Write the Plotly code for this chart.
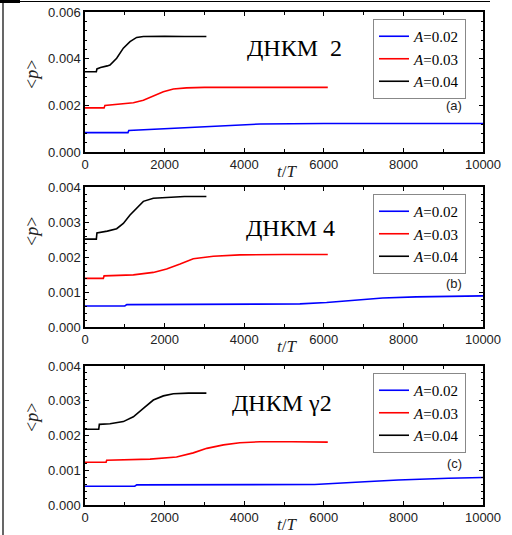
import plotly.graph_objects as go

W, H = 512, 535

labels = ["<i>A</i>=0.02", "<i>A</i>=0.03", "<i>A</i>=0.04"]
colors = ["#0000ff", "#ff0000", "#000000"]

# Panel (a) ДНКМ 2
a_t_02 = [0, 1080, 1100, 2000, 3000, 4400, 6000, 8000, 10000]
a_p_02 = [0.00083, 0.00083, 0.00092, 0.00099, 0.00108, 0.00120, 0.00122, 0.00122, 0.00122]
a_t_03 = [0, 480, 500, 800, 1215, 1466, 1717, 1968, 2220, 2550, 3000, 4000, 5000, 6100]
a_p_03 = [0.00189, 0.00189, 0.00199, 0.00204, 0.00211, 0.00222, 0.00241, 0.00258, 0.00270, 0.00275, 0.00277, 0.00277, 0.00277, 0.00277]
a_t_04 = [0, 285, 300, 390, 560, 628, 796, 963, 1131, 1298, 1466, 1700, 2000, 2500, 3050]
a_p_04 = [0.00344, 0.00344, 0.00356, 0.00362, 0.00369, 0.00373, 0.00402, 0.00445, 0.00473, 0.00491, 0.00495, 0.00496, 0.00496, 0.00495, 0.00495]

# Panel (b) ДНКМ 4
b_t_02 = [0, 1000, 1050, 2000, 3000, 4140, 5400, 6070, 6650, 7480, 8320, 9200, 10000]
b_p_02 = [0.00060, 0.00060, 0.00064, 0.00064, 0.00065, 0.00065, 0.00066, 0.00070, 0.00075, 0.00083, 0.00086, 0.00088, 0.00089]
b_t_03 = [0, 460, 480, 1215, 1717, 2050, 2390, 2720, 3225, 3890, 5000, 6100]
b_p_03 = [0.00139, 0.00139, 0.00146, 0.00149, 0.00156, 0.00166, 0.00180, 0.00195, 0.00202, 0.00206, 0.00207, 0.00207]
b_t_04 = [0, 285, 300, 560, 796, 963, 1131, 1298, 1466, 1717, 2050, 2500, 3050]
b_p_04 = [0.00251, 0.00251, 0.00269, 0.00274, 0.00281, 0.00296, 0.00320, 0.00341, 0.00359, 0.00368, 0.00371, 0.00373, 0.00373]

# Panel (c) ДНКМ γ2
c_t_02 = [0, 1250, 1300, 3000, 5770, 7030, 7870, 9130, 10000]
c_p_02 = [0.00054, 0.00054, 0.00058, 0.00058, 0.00059, 0.00067, 0.00072, 0.00077, 0.00079]
c_t_03 = [0, 530, 545, 1635, 2300, 2720, 3060, 3480, 3890, 4400, 5200, 6100]
c_p_03 = [0.00123, 0.00123, 0.00129, 0.00132, 0.00138, 0.00150, 0.00163, 0.00173, 0.00179, 0.00182, 0.00182, 0.00181]
c_t_04 = [0, 345, 360, 628, 963, 1215, 1466, 1717, 1968, 2220, 2600, 3050]
c_p_04 = [0.00218, 0.00218, 0.00232, 0.00234, 0.00240, 0.00254, 0.00278, 0.00302, 0.00314, 0.00320, 0.00322, 0.00322]

panel_titles = ["ДНКМ  2", "ДНКМ 4", "ДНКМ γ2"]
panel_tags = ["(a)", "(b)", "(c)"]
y_ranges = [[0, 0.006], [0, 0.004], [0, 0.004]]
y_dticks = [0.002, 0.001, 0.001]
y_minor = [0.0004, 0.0002, 0.0002]

panels = [
    [(a_t_02, a_p_02), (a_t_03, a_p_03), (a_t_04, a_p_04)],
    [(b_t_02, b_p_02), (b_t_03, b_p_03), (b_t_04, b_p_04)],
    [(c_t_02, c_p_02), (c_t_03, c_p_03), (c_t_04, c_p_04)],
]

# layout in pixels
px_left, px_right = 85, 483
px_rows = [(12, 152), (187, 327), (366, 505)]

def fx(p):
    return p / W

def fy(p):
    return 1 - p / H

fig = go.Figure()
legend_names = ["legend", "legend2", "legend3"]
for i, series in enumerate(panels):
    xa = "x" if i == 0 else f"x{i+1}"
    ya = "y" if i == 0 else f"y{i+1}"
    for j, (t, p) in enumerate(series):
        fig.add_trace(go.Scatter(
            x=t, y=p, mode="lines", name=labels[j],
            line=dict(color=colors[j], width=1.6),
            xaxis=xa, yaxis=ya, legend=legend_names[i],
        ))

layout = dict(
    width=W, height=H,
    margin=dict(l=0, r=0, t=0, b=0, autoexpand=False),
    paper_bgcolor="white", plot_bgcolor="white",
    showlegend=True,
)

tickfont = dict(family="Liberation Sans, Arial", size=13, color="#222")
for i in range(3):
    top, bot = px_rows[i]
    sx = "" if i == 0 else str(i + 1)
    layout[f"xaxis{sx}"] = dict(
        domain=[fx(px_left), fx(px_right)], range=[0, 10000],
        anchor=f"y{sx}", dtick=2000, tick0=0, tickformat="d", automargin=False,
        ticks="inside", ticklen=4, tickwidth=1, tickcolor="black",
        minor=dict(dtick=1000, ticks="inside", ticklen=3, tickcolor="black"),
        showline=True, linecolor="black", linewidth=1.5, mirror="allticks",
        showgrid=False, zeroline=False, tickfont=tickfont,
    )
    layout[f"yaxis{sx}"] = dict(
        domain=[fy(bot), fy(top)], range=y_ranges[i],
        anchor=f"x{sx}", dtick=y_dticks[i], tick0=0, tickformat=".3f", automargin=False,
        ticks="inside", ticklen=4, tickwidth=1, tickcolor="black",
        minor=dict(dtick=y_minor[i], ticks="inside", ticklen=2, tickcolor="black"),
        showline=True, linecolor="black", linewidth=1.5, mirror="allticks",
        showgrid=False, zeroline=False, tickfont=tickfont,
    )
    layout[legend_names[i]] = dict(
        x=fx(466), xanchor="right", y=fy(top + 7), yanchor="top",
        bgcolor="white", bordercolor="#888", borderwidth=1,
        font=dict(family="Liberation Serif, Times New Roman", size=15, color="black"),
        itemwidth=30, tracegroupgap=0,
    )

fig.update_layout(**layout)

annotations = []
title_pos = [(294, 48), (290, 228), (282, 403)]
tag_y = [105, 283, 463]
ylab_pos = [75, 232, 418]
xlab_pos = [171, 346, 524]
serif = "Liberation Serif, Times New Roman"
for i in range(3):
    tx, ty = title_pos[i]
    common = dict(xref="paper", yref="paper", showarrow=False, xanchor="center", yanchor="middle")
    annotations.append(dict(x=fx(tx), y=fy(ty), text=panel_titles[i],
                            font=dict(family=serif, size=24, color="black"), **common))
    annotations.append(dict(x=fx(454), y=fy(tag_y[i]), text=panel_tags[i],
                            font=dict(family="Liberation Sans, Arial", size=13, color="#222"), **common))
    annotations.append(dict(x=fx(32), y=fy(ylab_pos[i]), text="&lt;<i>p</i>&gt;", textangle=-90,
                            font=dict(family=serif, size=18, color="#222"), **common))
    annotations.append(dict(x=fx(287), y=fy(xlab_pos[i]), text="<i>t</i>/<i>T</i>",
                            font=dict(family=serif, size=17, color="#222"), **common))

shapes = [
    dict(type="line", xref="paper", yref="paper", x0=0, x1=fx(490), y0=fy(1.5), y1=fy(1.5),
         line=dict(color="black", width=1)),
    dict(type="line", xref="paper", yref="paper", x0=fx(3), x1=fx(3), y0=0, y1=1,
         line=dict(color="black", width=1.2)),
    dict(type="rect", xref="paper", yref="paper", x0=0, x1=fx(20), y0=fy(3), y1=1,
         fillcolor="black", line=dict(width=0)),
]
fig.update_layout(annotations=annotations, shapes=shapes)

fig.write_html("out.html")
